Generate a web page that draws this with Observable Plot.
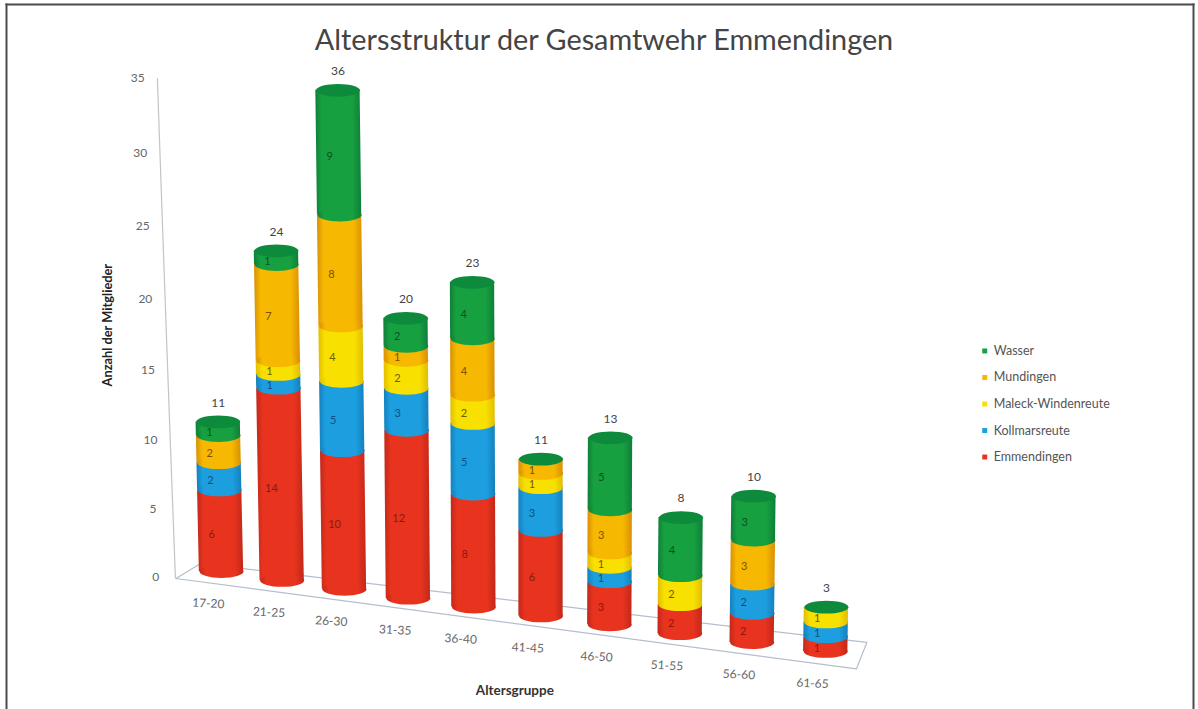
<!DOCTYPE html>
<html lang="de">
<head>
<meta charset="utf-8">
<title>Altersstruktur der Gesamtwehr Emmendingen</title>
<style>html,body{margin:0;padding:0;background:#fff}svg{display:block}</style>
<script src="https://cdn.jsdelivr.net/npm/d3@7"></script>
<script src="https://cdn.jsdelivr.net/npm/@observablehq/plot@0.6"></script>
</head>
<body>
<div id="chart"></div>
<script>
const titleText = "Altersstruktur der Gesamtwehr Emmendingen";
const categories = ["17-20","21-25","26-30","31-35","36-40","41-45","46-50","51-55","56-60","61-65"];
const emmendingen = [6,14,10,12,8,6,3,2,2,1];
const kollmarsreute = [2,1,5,3,5,3,1,0,2,1];
const maleck = [0,1,4,2,2,1,1,2,0,1];
const mundingen = [2,7,8,1,4,1,3,0,3,0];
const wasser = [1,1,9,2,4,0,5,4,3,0];
const totals = [11,24,36,20,23,11,13,8,10,3];
const yTicks = [0,5,10,15,20,25,30,35];

const series = [
  {name:"Emmendingen", values:emmendingen, id:"gE", c:"#e8331f", e:"#c2281a", t:"#8a1a10"},
  {name:"Kollmarsreute", values:kollmarsreute, id:"gK", c:"#1d9fdf", e:"#1480bd", t:"#0d4f80"},
  {name:"Maleck-Windenreute", values:maleck, id:"gW", c:"#f8e000", e:"#e2bd00", t:"#6f5c00"},
  {name:"Mundingen", values:mundingen, id:"gM", c:"#f6b800", e:"#d98f06", t:"#824f00"},
  {name:"Wasser", values:wasser, id:"gG", c:"#17a040", e:"#0f7f3a", t:"#0a5226"}
];

// Oblique view of the 3D chart: categories spread and the floor falls toward the right.
const pos = i => i + 0.0135 * i * i;
const base = i => 0.42 - 0.623 * i;
const unit = i => 0.954 + 0.0091 * i;
const lean = i => (-0.3 + 0.06 * i) / 59.86;
const X = (i, v) => pos(i) + lean(i) * v;
const Y = (i, v) => base(i) + unit(i) * v;
const halfW = 0.37;

const wall = v => v - 0.0015 * v * (35 - v);
const wallX = v => -0.77 - 0.0086 * v;

const floorOff = (i, d) => d ? 0.34 + 0.064 * (i + 0.35) : -0.97;
const floor = [[-0.77,0],[9.41,0],[9.55,1],[-0.35,1],[-0.77,0]]
  .map(([i,d]) => ({p: pos(i), v: base(i) + floorOff(i,d)}));

const ellipse = {
  draw(ctx, size) {
    const rx = Math.sqrt(size / Math.PI), ry = rx * 0.29, k = 0.5523;
    ctx.moveTo(-rx, 0);
    ctx.bezierCurveTo(-rx, -k*ry, -k*rx, -ry, 0, -ry);
    ctx.bezierCurveTo(k*rx, -ry, rx, -k*ry, rx, 0);
    ctx.bezierCurveTo(rx, k*ry, k*rx, ry, 0, ry);
    ctx.bezierCurveTo(-k*rx, ry, -rx, k*ry, -rx, 0);
    ctx.closePath();
  }
};

// Stack each category by hand so the oblique projection can be applied.
const segs = series.map(() => []);
categories.forEach((cat, i) => {
  let cum = 0;
  series.forEach((s, k) => {
    const v = s.values[i];
    if (v > 0) segs[k].push({i, cat, v, y0: cum, y1: cum + v});
    cum += v;
  });
});

const gradients = () => {
  const defs = d3.create("svg:defs");
  series.forEach(s => {
    const g = defs.append("linearGradient").attr("id", s.id).attr("x1",0).attr("x2",1).attr("y1",0).attr("y2",0);
    [[0,s.e],[0.14,s.c],[0.8,s.c],[1,s.e]].forEach(([o,c]) => g.append("stop").attr("offset",o).attr("stop-color",c));
  });
  return defs.node();
};

const barR = 22;
const barMarks = series.flatMap((s, k) => {
  const area = segs[k].flatMap(d => [
    {z:d.i, y:Y(d.i,d.y0), x1:X(d.i,d.y0)-halfW, x2:X(d.i,d.y0)+halfW},
    {z:d.i, y:Y(d.i,d.y1), x1:X(d.i,d.y1)-halfW, x2:X(d.i,d.y1)+halfW}
  ]);
  return [
    Plot.areaX(area, {y:"y", x1:"x1", x2:"x2", z:"z", fill:`url(#${s.id})`}),
    Plot.dot(segs[k], {x:d=>X(d.i,d.y0), y:d=>Y(d.i,d.y0), r:barR, symbol:ellipse, fill:`url(#${s.id})`})
  ];
});

const labelMarks = series.map((s, k) =>
  Plot.text(segs[k], {x:d=>X(d.i,(d.y0+d.y1)/2), y:d=>Y(d.i,(d.y0+d.y1)/2), text:d=>String(d.v), dx:-9, dy:4, fontSize:11, fill:s.t})
);

const legendRows = series.map((s, k) => ({name:s.name, id:s.id, c:s.c, row:k}));
const legendX = 12.75, legendY = r => 8.45 + 1.86 * r;

const chart = Plot.plot({
  width: 1198,
  height: 709,
  marginLeft: 6, marginTop: 4, marginRight: 5, marginBottom: 0,
  style: {background:"#fff", fontFamily:"Lato, sans-serif", overflow:"visible"},
  x: {domain:[0,10.09], range:[221,825], axis:null},
  y: {domain:[0,35], range:[577,78], axis:null},
  marks: [
    gradients,
    Plot.frame({anchor:"top", stroke:"#4a4a4a", strokeWidth:2}),
    Plot.frame({anchor:"left", stroke:"#4a4a4a", strokeWidth:2}),
    Plot.frame({anchor:"right", stroke:"#4a4a4a", strokeWidth:2}),
    Plot.text([titleText], {frameAnchor:"top", dy:36, dx:4, fontSize:28.8, fill:"#444", fontFamily:"Lato, sans-serif", lineAnchor:"middle"}),
    // floor and sloped value axis
    Plot.line(floor, {x:"p", y:"v", stroke:"#b4bfcc", strokeWidth:1.2}),
    Plot.line(yTicks, {x:wallX, y:wall, stroke:"#c4c4c4", strokeWidth:1.2}),
    Plot.text(yTicks, {x:d=>wallX(d)-0.33, y:wall, text:d=>String(d), fontSize:12, fill:"#666"}),
    ...barMarks,
    Plot.dot(categories.map((c,i)=>i), {x:i=>X(i,totals[i]), y:i=>Y(i,totals[i]), r:barR, symbol:ellipse, fill:"#0e8a3c"}),
    ...labelMarks,
    Plot.text(categories.map((c,i)=>i), {x:i=>X(i,totals[i]), y:i=>Y(i,totals[i]), text:i=>String(totals[i]), dy:-19, fontSize:12, fill:"#444"}),
    Plot.text(categories.map((c,i)=>i), {x:i=>pos(i)-0.22, y:i=>base(i)-2.25, text:i=>categories[i], rotate:3, fontSize:12, fill:"#666"}),
    Plot.text(["Anzahl der Mitglieder"], {x:()=>-1.9, y:()=>17.7, rotate:-90, fontSize:12.8, fontWeight:"bold", fill:"#222"}),
    Plot.text(["Altersgruppe"], {x:()=>4.9, y:()=>-7.95, fontSize:13.5, fontWeight:"bold", fill:"#333"}),
    // legend
    Plot.dot(legendRows, {x:()=>legendX, y:d=>legendY(d.row), r:2.8, symbol:"square", fill:"c"}),
    Plot.text(legendRows, {x:()=>legendX, y:d=>legendY(d.row), text:"name", dx:9, textAnchor:"start", fontSize:12.5, fill:"#555"})
  ]
});
document.getElementById("chart").append(chart);
</script>
</body>
</html>
